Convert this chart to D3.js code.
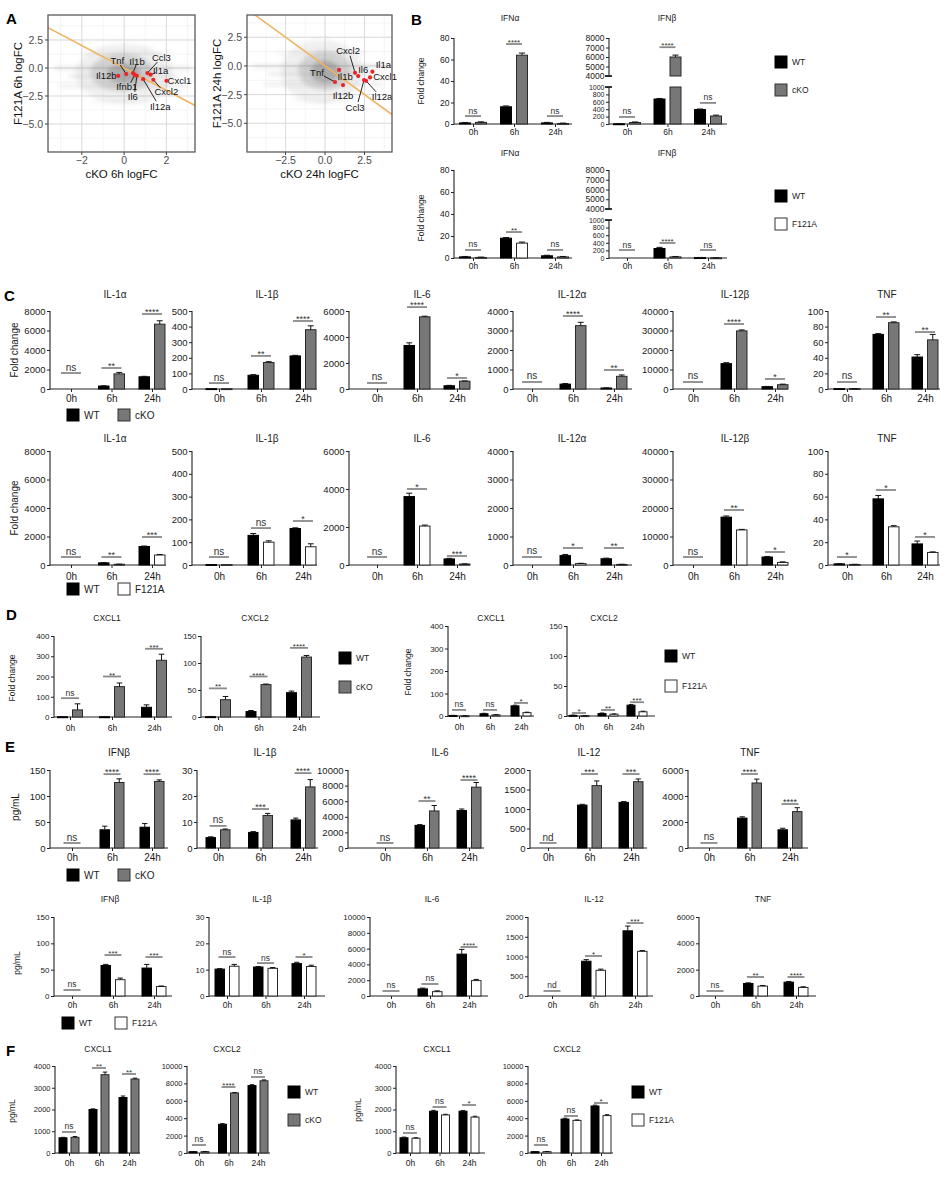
<!DOCTYPE html>
<html><head><meta charset="utf-8">
<script src="https://cdn.jsdelivr.net/npm/d3@7"></script>
<style>
body{margin:0;background:#fff}
svg{display:block;font-family:"Liberation Sans",Arial,Helvetica,sans-serif}
</style>
</head><body>
<svg id="fig" width="952" height="1178"></svg>
<script>
// ===================== DATA =====================
const timepoints = ["0h","6h","24h"];

// ---- Panel A (scatter of logFC) ----
const a6Genes   = ["Tnf","Il12b","Il1b","Ifnb1","Il6","Ccl3","Il1a","Il12a","Cxcl2","Cxcl1"];
const a6CKO     = [0.10,-0.28,0.42,0.50,0.60,1.10,1.25,0.90,1.38,2.00];
const a6F121A   = [-0.54,-0.70,-0.45,-0.60,-0.70,-0.45,-0.60,-1.00,-1.05,-1.15];
const a24Genes  = ["Tnf","Il1b","Il12b","Cxcl2","Il6","Ccl3","Il1a","Cxcl1","Il12a"];
const a24CKO    = [0.63,0.89,1.14,1.90,2.10,2.47,3.00,2.85,2.60];
const a24F121A  = [-1.40,-0.35,-1.67,-0.60,-0.88,-1.23,-0.50,-1.00,-1.30];
const aTicksX6  = [-2,0,2];
const aTicksX24 = [-2.5,0,2.5];
const aTicksY   = [2.5,0,-2.5,-5];
const aFitSlope = -1;           // fitted line y = slope * x
// density of the background gene cloud: [cx, cy, rx, ry, alpha] (data units)
const aCloud6  = [[0,-0.5,2.3,2.7,0.10],[-0.1,-0.4,1.5,1.7,0.22],[0,-0.5,0.8,0.9,0.35]];
const aCloud24 = [[-0.2,-0.5,2.6,2.8,0.10],[0,-0.4,1.7,1.7,0.22],[0,-0.5,0.9,1.0,0.35]];
// horizontal streaks: [y, x0, x1, alpha]
const aStreak6  = [[0,-3.3,3.2,0.22],[-0.75,-2.6,2.6,0.2],[-1.6,-3.0,3.0,0.18],[1.3,-2.0,2.2,0.1],[-3.0,-1.5,1.5,0.08]];
const aStreak24 = [[0,-4.6,3.8,0.22],[-0.7,-3.6,3.4,0.2],[-1.6,-3.8,3.6,0.18],[1.1,-3.0,2.6,0.1],[-3.0,-2.0,2.0,0.08]];

// ---- Panel B ----
const bTitles   = ["IFNα","IFNβ"];
const bMax      = [80,8000];
const bStep     = [20,1000];
const bKoWT     = [[1,16,1],[5,675,390]];
const bKoWTErr  = [[1.4,16.8,1.5],[10,690,405]];
const bKoKO     = [[1.5,64,0.5],[40,6000,215]];
const bKoKOErr  = [[2,66,0.8],[55,6200,240]];
const bKoSig    = [["ns","****","ns"],["ns","****","ns"]];
const bKoSigY   = [[7.4,74.4,7.4],[190,7030,570]];
const bFWT      = [[1,18,2],[0,250,10]];
const bFWTErr   = [[1.4,18.6,2.5],[0,280,15]];
const bFMut     = [[0.5,13.5,1],[0,30,5]];
const bFMutErr  = [[0.8,14.5,1.4],[0,40,8]];
const bFSig     = [["ns","**","ns"],["ns","****","ns"]];
const bFSigY    = [[7.3,23.6,7.3],[210,395,210]];

// ---- Panel C ----
const cTitles   = ["IL-1α","IL-1β","IL-6","IL-12α","IL-12β","TNF"];
const cMax      = [8000,500,6000,4000,40000,100];
const cStep     = [2000,100,2000,1000,10000,20];
const cKoWT     = [[0,300,1250],[2,88,212],[0,3350,250],[0,250,50],[0,13000,1200],[0.5,70,41]];
const cKoWTErr  = [[0,330,1300],[2,92,216],[0,3550,280],[0,280,60],[0,13500,1300],[0.6,71,44]];
const cKoKO     = [[0,1550,6650],[2,170,380],[0,5550,600],[0,3250,650],[0,29800,2200],[0.5,85,63]];
const cKoKOErr  = [[0,1700,7000],[2,175,405],[0,5600,620],[0,3420,720],[0,30300,2500],[0.6,86,70]];
const cKoSig    = [["ns","**","****"],["ns","**","****"],["ns","****","*"],["ns","****","**"],["ns","****","*"],["ns","**","**"]];
const cKoSigY   = [[1641,2154,7692],[38,212,436],[462,6300,846],[359,3744,974],[3590,33333,5128],[9,92.3,73]];
const cFWT      = [[0,150,1300],[2,130,160],[0,3600,320],[0,330,220],[0,16800,2800],[1,58,18.5]];
const cFWTErr   = [[0,170,1330],[2,138,163],[0,3780,350],[0,370,240],[0,17200,3000],[1.2,61,21]];
const cFMut     = [[0,50,700],[2,100,80],[0,2050,50],[0,50,20],[0,12300,900],[0.5,33.5,11]];
const cFMutErr  = [[0,60,740],[2,106,93],[0,2100,60],[0,60,25],[0,12500,1100],[0.6,34.5,11.5]];
const cFSig     = [["ns","**","***"],["ns","ns","*"],["ns","*","***"],["ns","*","**"],["ns","**","*"],["*","*","*"]];
const cFSigY    = [[561,561,1965],[35,162,193],[421,4000,474],[281,596,596],[2807,19298,4561],[7,65.8,24.6]];

// ---- Panel D ----
const dTitles   = ["CXCL1","CXCL2"];
const dMax      = [400,150];
const dStep     = [100,50];
const dKoWT     = [[1,1,48],[0.5,10,45]];
const dKoWTErr  = [[2,2,60],[1,12,48]];
const dKoKO     = [[35,150,280],[32,60,111]];
const dKoKOErr  = [[65,168,310],[38,61,114]];
const dKoSig    = [["ns","**","***"],["**","****","****"]];
const dKoSigY   = [[93,200,337],[53,75,128]];
const dFWT      = [[2,10,45],[1,4,18]];
const dFWTErr   = [[3,12,48],[1.5,5,19]];
const dFMut     = [[1,5,15],[0.5,3,7]];
const dFMutErr  = [[1.5,6,17],[0.8,3.5,8]];
const dFSig     = [["ns","ns","*"],["*","**","***"]];
const dFSigY    = [[27,27,58],[5,10,23]];

// ---- Panel E ----
const eTitles   = ["IFNβ","IL-1β","IL-6","IL-12","TNF"];
const eMax      = [150,30,10000,2000,6000];
const eStep     = [50,10,2000,500,2000];
const eKoWT     = [[0,35,40],[4,6,10.8],[0,2900,4800],[0,1100,1170],[0,2300,1400]];
const eKoWTErr  = [[0,42,47],[4.3,6.3,11.5],[0,3000,5000],[0,1120,1190],[0,2400,1520]];
const eKoKO     = [[0,126,128],[7,12.5,23.5],[0,4750,7800],[0,1600,1700],[0,5000,2800]];
const eKoKOErr  = [[0,133,131],[7.3,13.3,26.3],[0,5450,8400],[0,1720,1770],[0,5300,3100]];
const eKoSig    = [["ns","****","****"],["ns","***","****"],["ns","**","****"],["nd","***","***"],["ns","****","****"]];
const eKoSigY   = [[9.6,142,142],[8.5,15,28.8],[641,6026,8718],[128,1897,1897],[385,5692,3385]];
const eFWT      = [[0,58,53],[10.2,11,12.3],[0,900,5300],[0,880,1650],[0,950,1050]];
const eFWTErr   = [[0,60,60],[10.4,11.2,12.8],[0,1000,5900],[0,920,1770],[0,1000,1100]];
const eFMut     = [[0,31,18],[11.3,10.5,11.2],[0,550,1950],[0,650,1130],[0,750,650]];
const eFMutErr  = [[0,34,19],[12,10.8,11.7],[0,650,2100],[0,680,1150],[0,800,700]];
const eFSig     = [["ns","***","***"],["ns","ns","*"],["ns","ns","****"],["nd","*","***"],["ns","**","****"]];
const eFSigY    = [[11.4,77.8,74],[14.8,12.5,14.8],[633,1519,6203],[127,1013,1848],[380,1443,1443]];

// ---- Panel F ----
const fTitles   = ["CXCL1","CXCL2"];
const fMax      = [4000,10000];
const fStep     = [1000,2000];
const fKoWT     = [[700,2000,2550],[150,3300,7750]];
const fKoWTErr  = [[720,2030,2620],[170,3380,7850]];
const fKoKO     = [[720,3600,3400],[150,6900,8300]];
const fKoKOErr  = [[760,3720,3440],[170,6950,8400]];
const fKoSig    = [["ns","**","**"],["ns","****","ns"]];
const fKoSigY   = [[966,3908,3632],[920,7586,8736]];
const fFWT      = [[700,1920,1920],[150,3900,5400]];
const fFWTErr   = [[730,1960,1950],[170,4000,5500]];
const fFMut     = [[680,1750,1650],[150,3750,4300]];
const fFMutErr  = [[700,1780,1690],[170,3800,4400]];
const fFSig     = [["ns","ns","*"],["ns","ns","*"]];
const fFSigY    = [[920,2115,2207],[920,4253,5747]];

// ===================== LAYOUT (pixels) =====================
const FONT = "'Liberation Sans', Arial, Helvetica, sans-serif";
const COL_WT = "#000", COL_KO = "#777777", COL_F = "#ffffff";
const svg = d3.select("#fig");

function txt(g, x, y, s, o = {}) {
  return g.append("text").attr("x", x).attr("y", y).text(s)
    .attr("font-size", o.fs || 9).attr("text-anchor", o.anchor || "middle")
    .attr("fill", o.fill || "#1a1a1a").attr("font-weight", o.fw || "normal")
    .attr("font-family", FONT)
    .attr("dominant-baseline", o.db || "auto");
}
function vlabel(x, y, s, fs) {
  svg.append("text").attr("transform", `translate(${x},${y}) rotate(-90)`)
    .attr("text-anchor", "middle").attr("dominant-baseline", "middle")
    .attr("font-size", fs).attr("font-family", FONT).attr("fill", "#1a1a1a").text(s);
}
function legend(x, y, items, fs, sz) {
  items.forEach(([fill, label, dx, dy]) => {
    svg.append("rect").attr("x", x + dx).attr("y", y + dy - sz / 2).attr("width", sz).attr("height", sz)
      .attr("fill", fill).attr("stroke", fill === COL_WT ? "#000" : "#333").attr("stroke-width", 1);
    txt(svg, x + dx + sz + 5, y + dy, label, {fs, anchor: "start", db: "central"});
  });
}
function panelLetter(x, y, s) { txt(svg, x, y, s, {fs: 15, fw: "bold", anchor: "start", fill: "#000"}); }

// ---------- generic bar chart ----------
function barChart(o) {
  const g = svg.append("g");
  const x = d3.scalePoint().domain(timepoints).range([o.c0, o.c2]);
  const br = o.broken;
  const y = br
    ? d3.scaleLinear().domain([0, br.lo, br.hi, o.max]).range([o.yBot, br.yLo, br.yHi, o.yTop])
    : d3.scaleLinear().domain([0, o.max]).range([o.yBot, o.yTop]);
  const axCol = "#222";
  const segs = br ? [[0, br.lo, br.loStep, br.loFs], [br.hi, o.max, o.step, o.fs]] : [[0, o.max, o.step, o.fs]];
  segs.forEach(([a, b, s, fs]) => {
    const vals = d3.range(a, b + s / 2, s);
    const ag = g.append("g").attr("transform", `translate(${o.ax},0)`)
      .call(d3.axisLeft(y).tickValues(vals).tickSize(3).tickSizeOuter(0).tickPadding(1.5).tickFormat(d3.format("d")));
    ag.attr("font-family", FONT);
    ag.select(".domain").remove();
    ag.selectAll("line").attr("stroke", axCol).attr("stroke-width", 1);
    ag.selectAll("text").attr("font-size", fs).attr("fill", "#1a1a1a");
    g.append("line").attr("x1", o.ax).attr("x2", o.ax).attr("y1", y(a) + (a === 0 ? 0.5 : 0)).attr("y2", y(b))
      .attr("stroke", axCol).attr("stroke-width", 1.1);
  });
  if (br) {
    [br.lo, br.hi].forEach(v => g.append("line").attr("x1", o.ax - 4).attr("x2", o.ax + 3)
      .attr("y1", y(v)).attr("y2", y(v)).attr("stroke", axCol).attr("stroke-width", 1.8));
  }
  // x axis
  const xg = g.append("g").attr("transform", `translate(0,${o.yBot})`)
    .call(d3.axisBottom(x).tickSize(3).tickSizeOuter(0).tickPadding(2));
  xg.attr("font-family", FONT);
  xg.select(".domain").remove();
  xg.selectAll("line").attr("stroke", axCol).attr("stroke-width", 1);
  xg.selectAll("text").attr("font-size", o.xfs).attr("fill", "#1a1a1a").attr("dy", null).attr("y", o.xlabY - o.yBot);
  g.append("line").attr("x1", o.ax).attr("x2", o.ex).attr("y1", o.yBot).attr("y2", o.yBot)
    .attr("stroke", axCol).attr("stroke-width", 1.1);
  // bars
  const series = [
    {v: o.wt, e: o.wtErr, fill: COL_WT, stroke: "#000", off: -1},
    {v: o.mut, e: o.mutErr, fill: o.mutFill, stroke: "#2a2a2a", off: 1}
  ];
  series.forEach(s => {
    timepoints.forEach((t, i) => {
      const v = s.v[i];
      if (!(v > 0)) return;
      const cx = x(t) + s.off * (o.gap / 2 + o.bw / 2);
      const parts = (br && v > br.lo) ? [[0, br.lo], [br.hi, v]] : [[0, v]];
      parts.forEach(([a, b]) => g.append("rect").attr("x", cx - o.bw / 2).attr("width", o.bw)
        .attr("y", y(b)).attr("height", Math.max(0.9, y(a) - y(b)))
        .attr("fill", s.fill).attr("stroke", s.stroke).attr("stroke-width", 1));
      const e = s.e[i];
      if (e > v) {
        g.append("line").attr("x1", cx).attr("x2", cx).attr("y1", y(v)).attr("y2", y(e))
          .attr("stroke", "#111").attr("stroke-width", 1);
        g.append("line").attr("x1", cx - o.bw * 0.28).attr("x2", cx + o.bw * 0.28).attr("y1", y(e)).attr("y2", y(e))
          .attr("stroke", "#111").attr("stroke-width", 1);
      }
    });
  });
  // significance
  timepoints.forEach((t, i) => {
    const yy = y(o.sigY[i]);
    g.append("line").attr("x1", x(t) - o.sigLen / 2).attr("x2", x(t) + o.sigLen / 2)
      .attr("y1", yy).attr("y2", yy).attr("stroke", "#8a8a8a").attr("stroke-width", 1.8);
    const star = o.sig[i].includes("*");
    txt(g, x(t), star ? yy + 1 : yy - 2.5, o.sig[i], {fs: star ? o.sfs : o.nfs, fill: "#333"});
  });
  txt(g, o.tx, o.titleY, o.title, {fs: o.tfs});
}

function row(rowLayout, chartLayouts, titles, max, step, wt, wtE, mut, mutE, sig, sigY, mutFill, extra = []) {
  chartLayouts.forEach((L, k) => {
    barChart(Object.assign({}, rowLayout, L, {
      title: titles[k], max: max[k], step: step[k], wt: wt[k], wtErr: wtE[k], mut: mut[k], mutErr: mutE[k],
      sig: sig[k], sigY: sigY[k], mutFill
    }, extra[k] || {}));
  });
}

// ---------- Panel A ----------
function scatterPanel(o) {
  const g = svg.append("g");
  const x = d3.scaleLinear().domain(o.xd).range([o.x0, o.x1]);
  const y = d3.scaleLinear().domain(o.yd).range([o.y1, o.y0]);
  const id = "clip" + o.id;
  svg.append("clipPath").attr("id", id).append("rect")
    .attr("x", o.x0).attr("y", o.y0).attr("width", o.x1 - o.x0).attr("height", o.y1 - o.y0);
  const pg = g.append("g").attr("clip-path", `url(#${id})`);
  const majX = o.ticksX, stepX = majX[1] - majX[0];
  const minX = d3.range(o.xd[0] - stepX, o.xd[1] + stepX, stepX / 2).map(v => Math.round(v / (stepX / 2)) * (stepX / 2));
  const minY = d3.range(-10, 10, 1.25);
  minX.forEach(v => pg.append("line").attr("x1", x(v)).attr("x2", x(v)).attr("y1", o.y0).attr("y2", o.y1).attr("stroke", "#efefef").attr("stroke-width", 0.7));
  minY.forEach(v => pg.append("line").attr("y1", y(v)).attr("y2", y(v)).attr("x1", o.x0).attr("x2", o.x1).attr("stroke", "#efefef").attr("stroke-width", 0.7));
  majX.forEach(v => pg.append("line").attr("x1", x(v)).attr("x2", x(v)).attr("y1", o.y0).attr("y2", o.y1).attr("stroke", "#dcdcdc").attr("stroke-width", 1));
  aTicksY.forEach(v => pg.append("line").attr("y1", y(v)).attr("y2", y(v)).attr("x1", o.x0).attr("x2", o.x1).attr("stroke", "#dcdcdc").attr("stroke-width", 1));
  const cg = pg.append("g").attr("filter", "url(#blur)");
  o.cloud.forEach(([cx, cy, rx, ry, a]) => cg.append("ellipse")
    .attr("cx", x(cx)).attr("cy", y(cy)).attr("rx", x(rx) - x(0)).attr("ry", y(0) - y(ry))
    .attr("fill", "#6e6e6e").attr("fill-opacity", a));
  o.streak.forEach(([yy, a0, a1, a]) => cg.append("line")
    .attr("x1", x(a0)).attr("x2", x(a1)).attr("y1", y(yy)).attr("y2", y(yy))
    .attr("stroke", "#6e6e6e").attr("stroke-opacity", a).attr("stroke-width", 2.5));
  pg.append("line").attr("x1", x(o.xd[0])).attr("y1", y(aFitSlope * o.xd[0]))
    .attr("x2", x(o.xd[1])).attr("y2", y(aFitSlope * o.xd[1]))
    .attr("stroke", "#f0b461").attr("stroke-width", 1.6);
  o.genes.forEach((gn, i) => {
    const px = x(o.xs[i]), py = y(o.ys[i]);
    const L = o.labels[gn];
    if (L[2] !== null) g.append("line").attr("x1", px).attr("y1", py).attr("x2", px + L[2]).attr("y2", py + L[3])
      .attr("stroke", "#111").attr("stroke-width", 0.9);
    txt(g, px + L[0], py + L[1], gn, {fs: 9.5, db: "central", fill: "#111"});
  });
  o.genes.forEach((gn, i) => g.append("circle").attr("cx", x(o.xs[i])).attr("cy", y(o.ys[i])).attr("r", 2.1).attr("fill", "#e8262a"));
  g.append("rect").attr("x", o.x0).attr("y", o.y0).attr("width", o.x1 - o.x0).attr("height", o.y1 - o.y0)
    .attr("fill", "none").attr("stroke", "#5a5a5a").attr("stroke-width", 1.3);
  majX.forEach(v => {
    g.append("line").attr("x1", x(v)).attr("x2", x(v)).attr("y1", o.y1).attr("y2", o.y1 + 3).attr("stroke", "#444");
    txt(g, x(v), o.y1 + 12, d3.format(stepX % 1 ? ".1f" : "d")(v).replace("-", "\u2212"), {fs: 10.5, fill: "#4d4d4d"});
  });
  aTicksY.forEach(v => {
    g.append("line").attr("x1", o.x0 - 3).attr("x2", o.x0).attr("y1", y(v)).attr("y2", y(v)).attr("stroke", "#444");
    txt(g, o.x0 - 5, y(v), d3.format(".1f")(v).replace("-", "\u2212"), {fs: 10.5, fill: "#4d4d4d", anchor: "end", db: "central"});
  });
  txt(g, (o.x0 + o.x1) / 2, o.y1 + 26, o.xTitle, {fs: 11.5, fill: "#111"});
  svg.append("text").attr("transform", `translate(${o.yTitleX},${(o.y0 + o.y1) / 2}) rotate(-90)`)
    .attr("text-anchor", "middle").attr("dominant-baseline", "central").attr("font-size", 11.5)
    .attr("font-family", FONT).attr("fill", "#111").text(o.yTitle);
}
const defs = svg.append("defs");
defs.append("filter").attr("id", "blur").attr("x", "-50%").attr("y", "-50%").attr("width", "200%").attr("height", "200%")
  .append("feGaussianBlur").attr("stdDeviation", 2.2);

const aLabel6 = {
  Tnf: [-9, -14, -6, -9], Il1b: [4, -12, 3, -8], Ccl3: [14, -16, 10, -11], Il1a: [10, -4, 5, -2],
  Ifnb1: [-8, 12, -4, 8], Il6: [-4, 21, -2, 16], Cxcl2: [13, 12, 7, 8], Il12a: [17, 27, 13, 22],
  Il12b: [-12, 0, null, null], Cxcl1: [13, 0, null, null]
};
const aLabel24 = {
  Cxcl2: [-7, -22, -5, -17], Tnf: [-18, -10, -11, -6], Il1b: [6, 7, null, null], Il6: [5, -7, null, null],
  Il12b: [0, 10, null, null], Ccl3: [-9, 27, -6, 22], Il1a: [11, -7, null, null], Cxcl1: [15, -1, null, null],
  Il12a: [16, 16, 10, 11]
};
scatterPanel({id: "a6", x0: 48, x1: 195, y0: 15, y1: 152, xd: [-3.6, 3.35], yd: [-7.5, 4.73],
  ticksX: aTicksX6, cloud: aCloud6, streak: aStreak6, genes: a6Genes, xs: a6CKO, ys: a6F121A, labels: aLabel6,
  xTitle: "cKO 6h logFC", yTitle: "F121A 6h logFC", yTitleX: 18});
scatterPanel({id: "a24", x0: 247, x1: 392, y0: 15, y1: 152, xd: [-4.94, 4.24], yd: [-7.5, 4.44],
  ticksX: aTicksX24, cloud: aCloud24, streak: aStreak24, genes: a24Genes, xs: a24CKO, ys: a24F121A, labels: aLabel24,
  xTitle: "cKO 24h logFC", yTitle: "F121A 24h logFC", yTitleX: 217});
panelLetter(6, 24, "A");

// ---------- Panel B ----------
const bLayout = [
  {ax: 454, ex: 572, c0: 473, c2: 555, tx: 510},
  {ax: 609, ex: 727, c0: 627, c2: 708, tx: 667}
];
const bStyle = {bw: 11, gap: 5, sigLen: 16, fs: 8.5, xfs: 8.5, tfs: 8.5, sfs: 8, nfs: 8.5};
row(Object.assign({yTop: 38, yBot: 124, titleY: 21, xlabY: 135}, bStyle), bLayout, bTitles, bMax, bStep,
  bKoWT, bKoWTErr, bKoKO, bKoKOErr, bKoSig, bKoSigY, COL_KO,
  [{}, {broken: {lo: 1000, hi: 4000, loStep: 200, yLo: 87, yHi: 76, loFs: 7}}]);
row(Object.assign({yTop: 170, yBot: 258, titleY: 156, xlabY: 269}, bStyle), bLayout, bTitles, bMax, bStep,
  bFWT, bFWTErr, bFMut, bFMutErr, bFSig, bFSigY, COL_F,
  [{}, {broken: {lo: 1000, hi: 4000, loStep: 200, yLo: 220, yHi: 209, loFs: 7}}]);
vlabel(422, 81, "Fold change", 8.5);
vlabel(422, 218, "Fold change", 8.5);
legend(775, 62, [[COL_WT, "WT", 0, 0], [COL_KO, "cKO", 0, 28]], 8.5, 12);
legend(775, 196, [[COL_WT, "WT", 0, 0], [COL_F, "F121A", 0, 28]], 8.5, 12);
panelLetter(411, 25, "B");

// ---------- Panel C ----------
const cLayout = [
  {ax: 50, ex: 166, c0: 71, c2: 152, tx: 115},
  {ax: 192, ex: 317, c0: 219, c2: 303, tx: 267},
  {ax: 349, ex: 470, c0: 377, c2: 457, tx: 422},
  {ax: 513, ex: 632, c0: 532, c2: 614, tx: 572},
  {ax: 673, ex: 788, c0: 693, c2: 775, tx: 735},
  {ax: 828, ex: 940, c0: 847, c2: 925, tx: 887}
];
const cStyle = {bw: 10.5, gap: 5, sigLen: 20, fs: 9.5, xfs: 10, tfs: 10, sfs: 9, nfs: 10};
row(Object.assign({yTop: 311, yBot: 389, titleY: 298, xlabY: 402}, cStyle), cLayout, cTitles, cMax, cStep,
  cKoWT, cKoWTErr, cKoKO, cKoKOErr, cKoSig, cKoSigY, COL_KO);
row(Object.assign({yTop: 451, yBot: 565, titleY: 442, xlabY: 580}, cStyle), cLayout, cTitles, cMax, cStep,
  cFWT, cFWTErr, cFMut, cFMutErr, cFSig, cFSigY, COL_F);
vlabel(15, 350, "Fold change", 10);
vlabel(15, 508, "Fold change", 10);
legend(67, 415, [[COL_WT, "WT", 0, 0], [COL_KO, "cKO", 51, 0]], 10, 12);
legend(67, 589, [[COL_WT, "WT", 0, 0], [COL_F, "F121A", 51, 0]], 10, 12);
panelLetter(4, 301, "C");

// ---------- Panel D ----------
const dLayoutKO = [
  {ax: 54, ex: 172, c0: 70, c2: 154, tx: 107},
  {ax: 201, ex: 320, c0: 218, c2: 299, tx: 255}
];
const dLayoutF = [
  {ax: 448, ex: 534, c0: 459, c2: 521, tx: 491},
  {ax: 567, ex: 655, c0: 579, c2: 637, tx: 604}
];
row({yTop: 636, yBot: 717, titleY: 621, xlabY: 731, bw: 10, gap: 5, sigLen: 18, fs: 8, xfs: 8.5, tfs: 8.5, sfs: 8, nfs: 8.5},
  dLayoutKO, dTitles, dMax, dStep, dKoWT, dKoWTErr, dKoKO, dKoKOErr, dKoSig, dKoSigY, COL_KO);
row({yTop: 626, yBot: 716, titleY: 621, xlabY: 730, bw: 8, gap: 4, sigLen: 14, fs: 8, xfs: 8.5, tfs: 8.5, sfs: 8, nfs: 8.5},
  dLayoutF, dTitles, dMax, dStep, dFWT, dFWTErr, dFMut, dFMutErr, dFSig, dFSigY, COL_F);
vlabel(13, 678, "Fold change", 8.5);
vlabel(409, 672, "Fold change", 8.5);
legend(339, 658, [[COL_WT, "WT", 0, 0], [COL_KO, "cKO", 0, 29]], 8.5, 12);
legend(665, 656, [[COL_WT, "WT", 0, 0], [COL_F, "F121A", 0, 30]], 8.5, 12);
panelLetter(6, 620, "D");

// ---------- Panel E ----------
const eLayoutKO = [
  {ax: 50, ex: 168, c0: 72, c2: 152, tx: 119},
  {ax: 197, ex: 318, c0: 218, c2: 303, tx: 265},
  {ax: 348, ex: 484, c0: 385, c2: 469, tx: 440},
  {ax: 530, ex: 647, c0: 548, c2: 631, tx: 589},
  {ax: 688, ex: 808, c0: 709, c2: 790, tx: 750}
];
const eLayoutF = [
  {ax: 54, ex: 172, c0: 72, c2: 154, tx: 110},
  {ax: 209, ex: 325, c0: 227, c2: 304, tx: 262},
  {ax: 370, ex: 488, c0: 391, c2: 469, tx: 432},
  {ax: 528, ex: 653, c0: 552, c2: 635, tx: 594},
  {ax: 699, ex: 816, c0: 715, c2: 796, tx: 763}
];
row({yTop: 770, yBot: 848, titleY: 756, xlabY: 861, bw: 9.5, gap: 5, sigLen: 17, fs: 9.5, xfs: 10, tfs: 10, sfs: 9, nfs: 10},
  eLayoutKO, eTitles, eMax, eStep, eKoWT, eKoWTErr, eKoKO, eKoKOErr, eKoSig, eKoSigY, COL_KO);
row({yTop: 917, yBot: 996, titleY: 902, xlabY: 1008, bw: 9.5, gap: 5, sigLen: 17, fs: 8, xfs: 8.5, tfs: 8.5, sfs: 8, nfs: 8.5},
  eLayoutF, eTitles, eMax, eStep, eFWT, eFWTErr, eFMut, eFMutErr, eFSig, eFSigY, COL_F);
vlabel(16, 807, "pg/mL", 10);
vlabel(18, 963, "pg/mL", 8.5);
legend(67, 875, [[COL_WT, "WT", 0, 0], [COL_KO, "cKO", 51, 0]], 10, 12);
legend(62, 1023, [[COL_WT, "WT", 0, 0], [COL_F, "F121A", 53, 0]], 8.5, 12);
panelLetter(5, 752, "E");

// ---------- Panel F ----------
const fLayoutKO = [
  {ax: 55, ex: 140, c0: 69, c2: 129, tx: 98},
  {ax: 187, ex: 270, c0: 199, c2: 258, tx: 227}
];
const fLayoutF = [
  {ax: 396, ex: 485, c0: 410, c2: 469, tx: 437},
  {ax: 528, ex: 613, c0: 541, c2: 601, tx: 567}
];
const fStyle = {yTop: 1066, yBot: 1153, titleY: 1052, xlabY: 1166, bw: 8, gap: 4, sigLen: 14, fs: 7.5, xfs: 8.5, tfs: 8.5, sfs: 8, nfs: 8.5};
row(fStyle, fLayoutKO, fTitles, fMax, fStep, fKoWT, fKoWTErr, fKoKO, fKoKOErr, fKoSig, fKoSigY, COL_KO);
row(fStyle, fLayoutF, fTitles, fMax, fStep, fFWT, fFWTErr, fFMut, fFMutErr, fFSig, fFSigY, COL_F);
vlabel(13, 1111, "pg/mL", 8.5);
vlabel(359, 1110, "pg/mL", 8.5);
legend(288, 1092, [[COL_WT, "WT", 0, 0], [COL_KO, "cKO", 0, 28]], 8.5, 12);
legend(632, 1092, [[COL_WT, "WT", 0, 0], [COL_F, "F121A", 0, 28]], 8.5, 12);
panelLetter(6, 1056, "F");
</script>
</body></html>
